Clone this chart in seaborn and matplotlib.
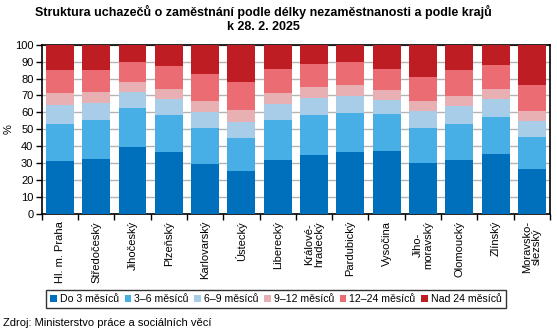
import matplotlib
matplotlib.use("Agg")
import matplotlib.pyplot as plt
from matplotlib.patches import Patch
import seaborn as sns
import pandas as pd
import numpy as np

regions = ["Hl. m. Praha", "Středočeský", "Jihočeský", "Plzeňský", "Karlovarský",
           "Ústecký", "Liberecký", "Králové-\nhradecký", "Pardubický", "Vysočina",
           "Jiho-\nmoravský", "Olomoucký", "Zlínský", "Moravsko-\nslezský"]
series_names = ["Do 3 měsíců", "3–6 měsíců", "6–9 měsíců", "9–12 měsíců",
                "12–24 měsíců", "Nad 24 měsíců"]
do3 =    [31.3, 32.5, 39.6, 36.6, 29.5, 25.4, 31.9, 34.8, 36.6, 37.2, 30.1, 31.9, 35.4, 26.6]
m3_6 =   [21.8, 23.0, 23.0, 21.9, 21.3, 19.5, 23.6, 23.7, 23.0, 21.9, 20.7, 21.2, 21.9, 18.9]
m6_9 =   [11.3, 10.1, 9.4, 9.4, 9.4, 9.4, 9.5, 10.0, 10.1, 8.4, 10.0, 10.7, 10.6, 9.4]
m9_12 =  [7.1, 6.4, 6.0, 5.9, 6.5, 7.1, 6.5, 6.5, 6.5, 5.7, 5.9, 5.9, 5.9, 5.9]
m12_24 = [13.5, 13.0, 11.8, 13.6, 16.0, 16.6, 14.1, 13.6, 13.6, 12.4, 14.2, 15.3, 14.2, 15.4]
nad24 =  [15.0, 15.0, 10.2, 12.6, 17.3, 22.0, 14.4, 11.4, 10.2, 14.4, 19.1, 15.0, 12.0, 23.8]
yticks = list(range(0, 101, 10))

colors = ["#0070BD", "#47AEE6", "#A8CDE8", "#E9B0B4", "#EC6C74", "#BE1D24"]

plt.rcParams['font.family'] = ['Liberation Sans', 'DejaVu Sans']

fig = plt.figure(figsize=(5.57, 3.32), dpi=100)
ax = fig.add_axes([0.0749, 0.3554, 0.9126, 0.5100])

series = [do3, m3_6, m6_9, m9_12, m12_24, nad24]
bottom = np.zeros(len(regions))
for name, vals, col in zip(series_names, series, colors):
    df = pd.DataFrame({"region": regions, "value": vals})
    sns.barplot(data=df, x="region", y="value", order=regions, color=col,
                bottom=bottom, width=0.77, saturation=1, ax=ax, zorder=3)
    bottom = bottom + np.array(vals)

ax.set_xlim(-0.5, len(regions) - 0.5)
ax.set_ylim(0, 100)
ax.set_yticks(yticks)
ax.set_yticklabels([str(v) for v in yticks], fontsize=8)
ax.yaxis.grid(True, color="#b4b4b4", linewidth=1, zorder=0)
ax.set_axisbelow(True)
ax.set_xlabel("")
ax.set_ylabel("%", fontsize=8)
ax.yaxis.set_label_coords(-0.055, 0.5)

ax.set_xticks(range(len(regions)))
ax.set_xticklabels(regions, rotation=90, fontsize=8, va="top", ha="center",
                   linespacing=1.0)
ax.tick_params(axis="x", length=0, pad=5)
ax.set_xticks(np.arange(-0.5, len(regions), 1.0), minor=True)
ax.tick_params(axis="x", which="minor", length=4, width=1, color="black")
ax.tick_params(axis="y", length=4, width=1, pad=2)
for s in ax.spines.values():
    s.set_color("black")
    s.set_linewidth(1.2)

handles = [Patch(facecolor=c, edgecolor="none") for c in colors]
leg = fig.legend(handles, series_names, loc="center", bbox_to_anchor=(276/557, 1 - 299/332),
                 ncol=6, fontsize=7.6, frameon=True, fancybox=False, edgecolor="black",
                 handlelength=0.6, handleheight=0.6, handletextpad=0.3,
                 columnspacing=0.55, borderpad=0.35, borderaxespad=0)
leg.get_frame().set_linewidth(1.0)

fig.text(263.5/557, 1 - 12/332, "Struktura uchazečů o zaměstnání podle délky nezaměstnanosti a podle krajů",
         ha="center", va="center", fontsize=9, fontweight="bold")
fig.text(263.5/557, 1 - 27/332, "k 28. 2. 2025", ha="center", va="center",
         fontsize=9, fontweight="bold")
fig.text(3/557, 1 - 323/332, "Zdroj: Ministerstvo práce a sociálních věcí",
         ha="left", va="center", fontsize=8)

fig.savefig("out.png", dpi=100)
